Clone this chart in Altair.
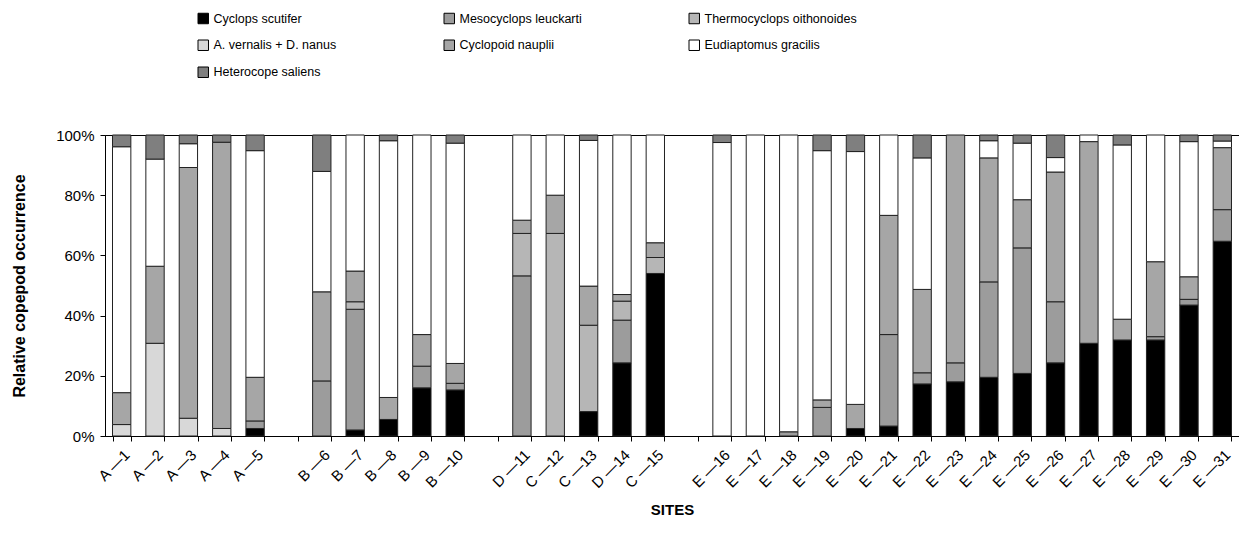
import altair as alt
import pandas as pd

sites = ["A —1", "A —2", "A —3", "A —4", "A —5",
         "B —6", "B —7", "B —8", "B —9", "B —10",
         "D —11", "C —12", "C —13", "D —14", "C —15",
         "E —16", "E —17", "E —18", "E —19", "E —20", "E —21", "E —22", "E —23",
         "E —24", "E —25", "E —26", "E —27", "E —28", "E —29", "E —30", "E —31"]

species = ["Cyclops  scutifer", "Mesocyclops leuckarti", "Thermocyclops oithonoides",
           "A. vernalis + D. nanus", "Cyclopoid nauplii", "Eudiaptomus gracilis",
           "Heterocope saliens"]

cyclops = [0, 0, 0, 0, 2.5, 0, 2.0, 5.5, 16.0, 15.3, 0, 0, 8.1, 24.3, 54.0,
           0, 0, 0, 0, 2.5, 3.3, 17.3, 18.0, 19.5, 20.8, 24.3, 30.8, 31.9, 31.9, 43.5, 64.7]
meso = [0, 0, 0, 0, 2.5, 18.3, 40.1, 0, 7.2, 2.2, 53.2, 0, 0, 14.2, 0,
        0, 0, 1.4, 9.5, 0, 30.4, 3.7, 6.3, 31.7, 41.7, 20.3, 0, 0, 1.1, 1.9, 10.5]
thermo = [0, 0, 0, 0, 0, 0, 2.5, 0, 0, 0, 14.1, 67.3, 28.7, 6.3, 5.3,
          0, 0, 0, 0, 0, 0, 0, 0, 0, 0, 0, 0, 0, 0, 0, 0]
avern = [3.8, 30.8, 5.9, 2.5, 0, 0, 0, 0, 0, 0, 0, 0, 0, 0, 0,
         0, 0, 0, 0, 0, 0, 0, 0, 0, 0, 0, 0, 0, 0, 0, 0]
nauplii = [10.6, 25.6, 83.3, 95.1, 14.5, 29.6, 10.2, 7.3, 10.5, 6.6, 4.4, 12.7, 13.0, 2.2, 4.9,
           0, 0, 0, 2.5, 8.0, 39.6, 27.7, 75.7, 41.2, 16.0, 43.1, 67.0, 6.9, 24.9, 7.5, 20.6]
eudi = [81.7, 35.6, 7.9, 0, 75.3, 40.0, 45.2, 85.3, 66.3, 73.2, 28.3, 20.0, 48.4, 53.0, 35.8,
        97.5, 100, 98.6, 82.8, 84.0, 26.7, 43.7, 0, 5.7, 18.8, 4.8, 2.2, 57.9, 42.1, 44.9, 2.2]
hetero = [3.9, 8.0, 2.9, 2.4, 5.2, 12.1, 0, 1.9, 0, 2.7, 0, 0, 1.8, 0, 0,
          2.5, 0, 0, 5.2, 5.5, 0, 7.6, 0, 1.9, 2.7, 7.5, 0, 3.3, 0, 2.2, 2.0]

series = [cyclops, meso, thermo, avern, nauplii, eudi, hetero]
fills = ["#000000", "#9c9c9c", "#b6b6b6", "#d8d8d8", "#a6a6a6", "#ffffff", "#7f7f7f"]

# x domain with empty (blank-named) slots between site groups
domain = sites[:5] + [" "] + sites[5:10] + ["  "] + sites[10:15] + ["   "] + sites[15:]

rows = []
for k, (sp, vals) in enumerate(zip(species, series)):
    for s, v in zip(sites, vals):
        if v > 0:
            rows.append({"site": s, "species": sp, "rank": k, "pct": v})
df = pd.DataFrame(rows)

bars = alt.Chart(df).mark_bar(stroke="#222222", strokeWidth=1).encode(
    x=alt.X("site:N", scale=alt.Scale(domain=domain, paddingInner=0.45, paddingOuter=0.225),
            axis=alt.Axis(title="SITES", labelAngle=-45, tickBand="extent",
                          labelFont="Liberation Sans", labelFontSize=15, labelColor="black",
                          labelPadding=6, domainColor="black", tickColor="black", tickSize=5,
                          titleFont="Liberation Sans", titleFontSize=15, titleFontWeight="bold",
                          titleColor="black", titlePadding=12)),
    y=alt.Y("pct:Q", stack="normalize",
            axis=alt.Axis(title="Relative copepod occurrence", format=".0%",
                          values=[0, 0.2, 0.4, 0.6, 0.8, 1.0], grid=False,
                          labelFont="Liberation Sans", labelFontSize=15, labelColor="black",
                          labelPadding=6, domainColor="black", tickColor="black", tickSize=5,
                          titleFont="Liberation Sans", titleFontSize=16, titleFontWeight="bold",
                          titleColor="black", titlePadding=28)),
    color=alt.Color("species:N", scale=alt.Scale(domain=species, range=fills),
                    legend=alt.Legend(title=None, orient="none", legendX=92, legendY=-123,
                                      direction="horizontal", columns=3, columnPadding=105,
                                      rowPadding=12, symbolType="square", symbolSize=110,
                                      symbolStrokeColor="black", symbolStrokeWidth=1,
                                      labelFont="Liberation Sans", labelFontSize=12.5,
                                      labelColor="black", labelOffset=4, labelLimit=300)),
    order=alt.Order("rank:Q", sort="ascending"),
)

chart = bars.properties(
    width=1134, height=301,
    autosize=alt.AutoSizeParams(type="none"),
    padding={"left": 97, "top": 127, "right": 0, "bottom": 86},
).configure_view(stroke="black", strokeWidth=1)

chart.save("out.html", embed_options={"renderer": "svg", "actions": False})
